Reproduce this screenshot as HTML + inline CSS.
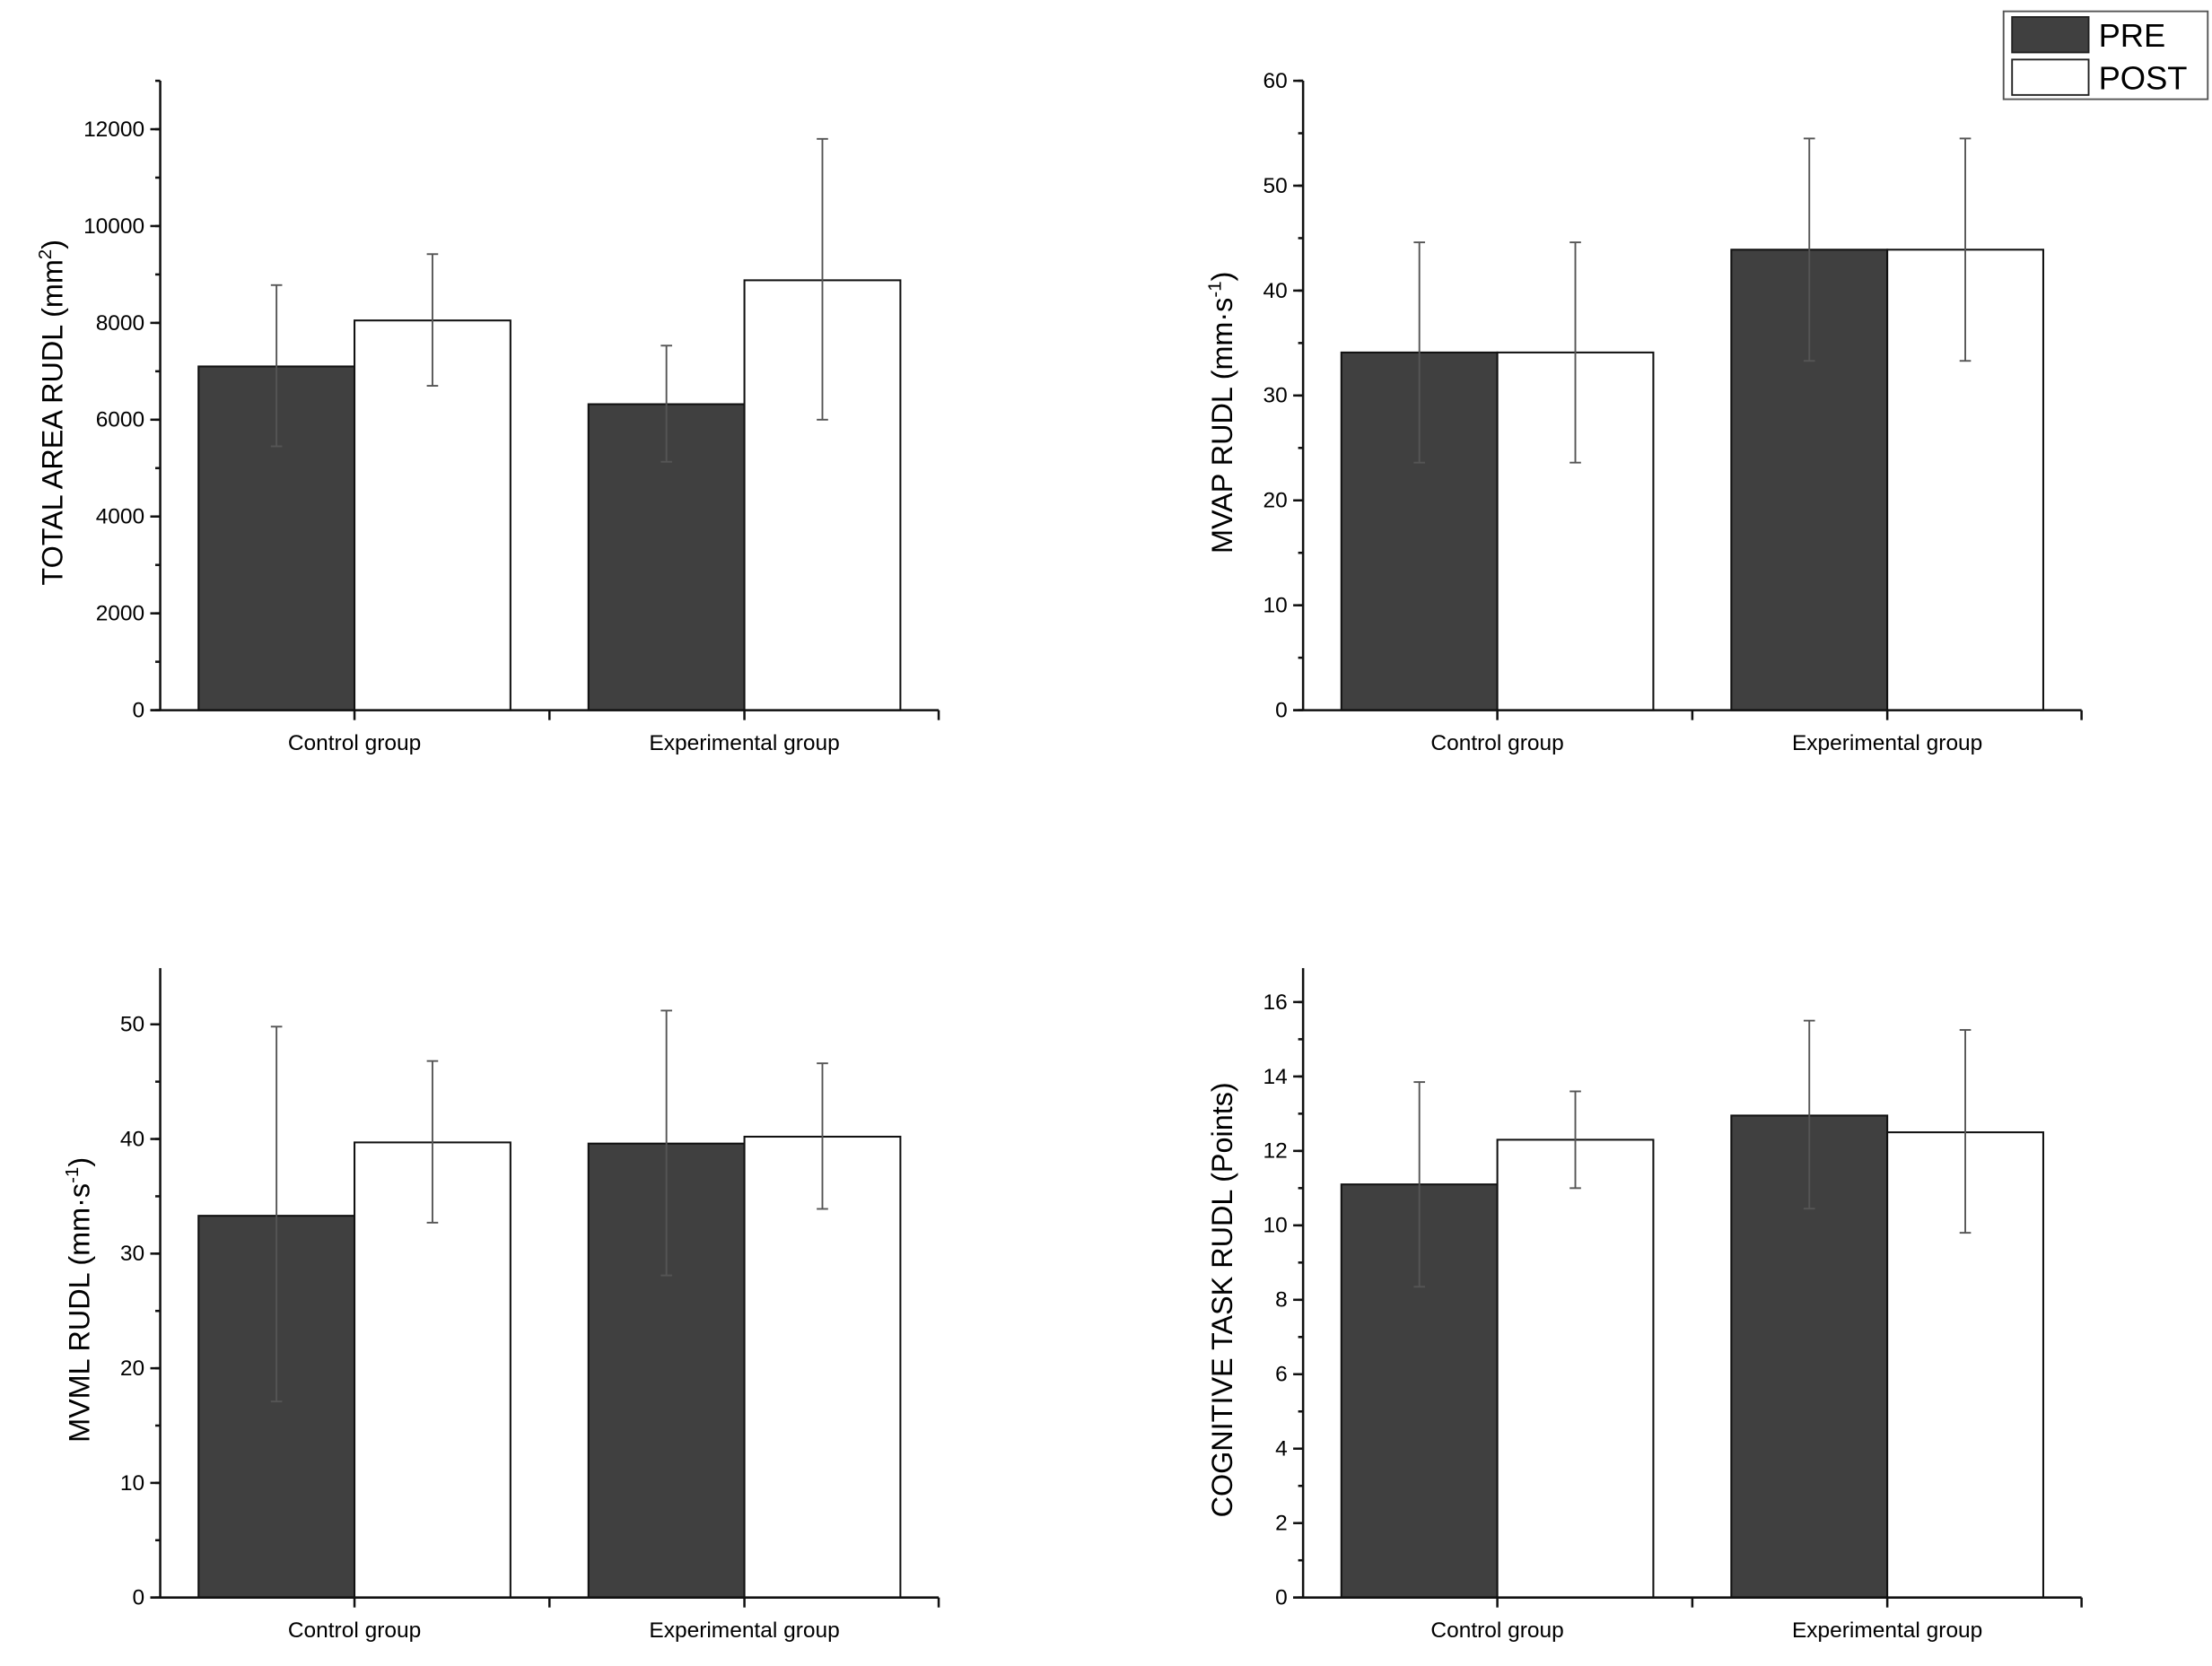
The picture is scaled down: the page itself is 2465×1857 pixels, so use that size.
<!DOCTYPE html>
<html><head><meta charset="utf-8"><style>
html,body{margin:0;padding:0;background:#fff;}
svg{display:block;font-family:"Liberation Sans",Arial,sans-serif;}
</style></head><body>
<svg id="fig" width="2465" height="1857" viewBox="0 0 1560 1175.3" preserveAspectRatio="none" xmlns="http://www.w3.org/2000/svg">
<g>
<rect x="1413" y="8" width="144" height="62" fill="#fff" stroke="#555" stroke-width="1.2"/>
<rect x="1419" y="12" width="54" height="25" fill="#404040" stroke="#222" stroke-width="1.2"/>
<text x="1480" y="33" font-size="23">PRE</text>
<rect x="1419" y="42" width="54" height="25" fill="#fff" stroke="#222" stroke-width="1.2"/>
<text x="1480" y="63" font-size="23">POST</text>
</g>
</svg>
<script>
const groups = ["Control group","Experimental group"];
const c1Pre = [7100, 6320], c1PreLo=[5450,5130], c1PreHi=[8780,7530];
const c1Post = [8050, 8880], c1PostLo=[6700,6000], c1PostHi=[9420,11800];
const c1Ticks = [0,2000,4000,6000,8000,10000,12000];
const c2Pre = [34.1, 43.9], c2PreLo=[23.6,33.3], c2PreHi=[44.6,54.5];
const c2Post = [34.1, 43.9], c2PostLo=[23.6,33.3], c2PostHi=[44.6,54.5];
const c2Ticks = [0,10,20,30,40,50,60];
const c3Pre = [33.3, 39.6], c3PreLo=[17.1,28.1], c3PreHi=[49.8,51.2];
const c3Post = [39.7, 40.2], c3PostLo=[32.7,33.9], c3PostHi=[46.8,46.6];
const c3Ticks = [0,10,20,30,40,50];
const c4Pre = [11.1, 12.95], c4PreLo=[8.35,10.45], c4PreHi=[13.85,15.5];
const c4Post = [12.3, 12.5], c4PostLo=[11.0,9.8], c4PostHi=[13.6,15.25];
const c4Ticks = [0,2,4,6,8,10,12,14,16];

const NS="http://www.w3.org/2000/svg";
const svg=document.getElementById('fig');
function mk(tag,attrs,parent,text){const e=document.createElementNS(NS,tag);for(const k in attrs)e.setAttribute(k,attrs[k]);if(text!==undefined)e.textContent=text;parent.appendChild(e);return e;}

function chart(name, ox, base, top, yMax, ticks, minorStep, label, labOff, pre, preLo, preHi, post, postLo, postHi){
  const g=mk('g',{},svg);
  
  
  const x0=ox, x1=ox+549;
  const y=v=>base-(v/yMax)*(base-top);
  const bw=110;
  const centers=[ox+137, ox+412];
  for(let i=0;i<groups.length;i++){
    const c=centers[i];
    const r1=mk('rect',{x:c-bw,y:y(pre[i]),width:bw,height:base-y(pre[i]),fill:'#404040',stroke:'#111','stroke-width':1.3},g);
    
    
    const r2=mk('rect',{x:c,y:y(post[i]),width:bw,height:base-y(post[i]),fill:'#fff',stroke:'#111','stroke-width':1.3},g);
    
    
    [[c-bw/2,preLo[i],preHi[i],'pre'],[c+bw/2,postLo[i],postHi[i],'post']].forEach(([ex,lo,hi,s])=>{
      const eg=mk('g',{stroke:'#555','stroke-width':1.2},g);
      
      
      mk('line',{x1:ex,x2:ex,y1:y(lo),y2:y(hi)},eg);
      mk('line',{x1:ex-4,x2:ex+4,y1:y(lo),y2:y(lo)},eg);
      mk('line',{x1:ex-4,x2:ex+4,y1:y(hi),y2:y(hi)},eg);
    });
    const t=mk('text',{x:c,y:base+28,'font-size':15.5,'text-anchor':'middle'},g,groups[i]);
    
    
  }
  const ax=mk('g',{stroke:'#111','stroke-width':1.6,fill:'none'},g);
  
  
  mk('line',{x1:x0,x2:x0,y1:top,y2:base},ax);
  mk('line',{x1:x0-7,x2:x1,y1:base,y2:base},ax);
  [centers[0],(centers[0]+centers[1])/2,centers[1],x1].forEach(tx=>mk('line',{x1:tx,x2:tx,y1:base,y2:base+7},ax));
  for(let v=0;v<=yMax+1e-9;v+=minorStep) mk('line',{x1:x0-3.5,x2:x0,y1:y(v),y2:y(v)},ax);
  ticks.forEach(v=>{
    mk('line',{x1:x0-7,x2:x0,y1:y(v),y2:y(v)},ax);
    const t=mk('text',{x:x0-11,y:y(v)+5,'font-size':15.5,'text-anchor':'end'},g,String(v));
    
    
  });
  const cy=(top+base)/2;
  const yl=mk('text',{x:0,y:0,'font-size':20.5,'text-anchor':'middle',transform:`translate(${ox-labOff},${cy+12}) rotate(-90)`},g);
  
  
  yl.innerHTML=label;
}
chart('chart-total-area',113,501,57,13000,c1Ticks,1000,'TOTAL AREA RUDL (mm<tspan font-size="13" dy="-8">2</tspan><tspan dy="8">)</tspan>',69,c1Pre,c1PreLo,c1PreHi,c1Post,c1PostLo,c1PostHi);
chart('chart-mvap',919,501,57,60,c2Ticks,5,'MVAP RUDL (mm·s<tspan font-size="13" dy="-8">-1</tspan><tspan dy="8">)</tspan>',50,c2Pre,c2PreLo,c2PreHi,c2Post,c2PostLo,c2PostHi);
chart('chart-mvml',113,1127,683,54.9,c3Ticks,5,'MVML RUDL (mm·s<tspan font-size="13" dy="-8">-1</tspan><tspan dy="8">)</tspan>',50,c3Pre,c3PreLo,c3PreHi,c3Post,c3PostLo,c3PostHi);
chart('chart-cognitive',919,1127,683,16.91,c4Ticks,1,'COGNITIVE TASK RUDL (Points)',50,c4Pre,c4PreLo,c4PreHi,c4Post,c4PostLo,c4PostHi);
</script>
</body></html>
